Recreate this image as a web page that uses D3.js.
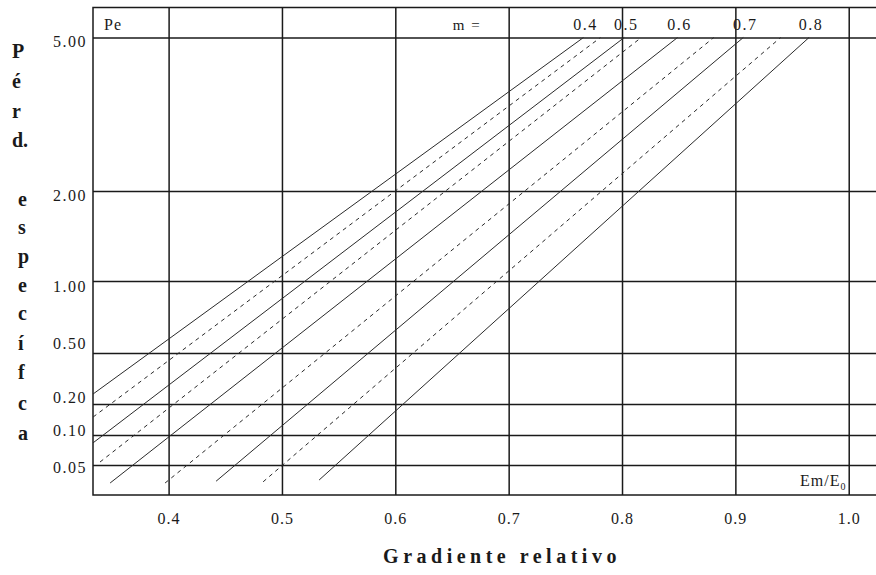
<!DOCTYPE html>
<html>
<head>
<meta charset="utf-8">
<script src="https://cdn.jsdelivr.net/npm/d3@7"></script>
<style>
    body { margin: 0; background: #fff; }
    svg text { font-family: "Liberation Serif", "Times New Roman", serif; fill: #1a1a1a; }
</style>
</head>
<body>
<svg id="chart" width="876" height="575"></svg>
<script>
// nomogram values
const mValues   = [0.4, 0.45, 0.5, 0.55, 0.6, 0.65, 0.7, 0.75, 0.8];
const startGrad = [0.3334, 0.3334, 0.3334, 0.3395, 0.3484, 0.3969, 0.4419, 0.4834, 0.5328];
const startPe   = [0.259, 0.158, 0.087, 0.055, 0.020, 0.020, 0.023, 0.022, 0.025];
const endGrad   = [0.766, 0.781, 0.802, 0.817, 0.849, 0.881, 0.907, 0.940, 0.965];
const endPe     = [5, 5, 5, 5, 5, 5, 5, 5, 5];

const xTicks = [0.4, 0.5, 0.6, 0.7, 0.8, 0.9, 1.0];
const yTicks = [0.05, 0.1, 0.2, 0.5, 1, 2, 5];
const yTickLabels = ["0.05", "0.10", "0.20", "0.50", "1.00", "2.00", "5.00"];
const yTitleParts = [["P", "é", "r", "d."], ["e", "s", "p", "e", "c", "í", "f", "c", "a"]];

const plot = {left: 93, right: 882, top: 7.5, bottom: 495};

const svg = d3.select('#chart');

const x = d3.scaleLinear()
    .domain([0.3333, 1.0276])
    .range([plot.left, 880]);

// the paper's Pe scale is not a clean log scale, so it is piecewise linear
const y = d3.scaleLinear()
    .domain([0, 0.05, 0.1, 0.2, 0.5, 1, 2, 5])
    .range([plot.bottom, 465, 435, 404, 353, 281, 191, 37.5]);

// nudges for the y labels, which sit a little off their grid lines
const yLabelShift = [2, -5, -7, -10, 5, 4, 4];

// x grid + labels
const xAxis = svg.append('g')
    .attr('transform', 'translate(0,' + plot.bottom + ')')
    .call(d3.axisBottom(x)
        .tickValues(xTicks)
        .tickFormat(d3.format('.1f'))
        .tickSize(-(plot.bottom - plot.top))
        .tickPadding(18));
xAxis.select('.domain').remove();
xAxis.selectAll('line').attr('stroke', '#1a1a1a').attr('stroke-width', 1.5);
xAxis.selectAll('text')
    .style('font-size', '16px')
    .style('letter-spacing', '1px')
    .attr('fill', '#1a1a1a');

// y grid + labels
const yAxis = svg.append('g')
    .attr('transform', 'translate(' + plot.left + ',0)')
    .call(d3.axisLeft(y)
        .tickValues(yTicks)
        .tickFormat((d, i) => yTickLabels[i])
        .tickSize(-(plot.right - plot.left))
        .tickPadding(6));
yAxis.select('.domain').remove();
yAxis.selectAll('line').attr('stroke', '#1a1a1a').attr('stroke-width', 1.5);
yAxis.selectAll('text')
    .style('font-size', '16px')
    .style('letter-spacing', '1.5px')
    .attr('fill', '#1a1a1a')
    .attr('transform', (d, i) => 'translate(0,' + yLabelShift[i] + ')');

// frame
svg.append('rect')
    .attr('x', plot.left)
    .attr('y', plot.top)
    .attr('width', plot.right - plot.left)
    .attr('height', plot.bottom - plot.top)
    .attr('fill', 'none')
    .attr('stroke', '#1a1a1a')
    .attr('stroke-width', 1.5);

// m curves
const series = mValues.map((m, i) => ({
    m: m,
    dashed: i % 2 === 1,
    points: [[startGrad[i], startPe[i]], [endGrad[i], endPe[i]]]
}));

const line = d3.line()
    .x(d => x(d[0]))
    .y(d => y(d[1]));

svg.append('g')
    .selectAll('path')
    .data(series).enter()
    .append('path')
    .attr('d', d => line(d.points))
    .attr('fill', 'none')
    .attr('stroke', '#2a2a2a')
    .attr('stroke-width', 1)
    .attr('stroke-dasharray', d => d.dashed ? '4,4' : null);

// header strip
svg.append('text')
    .attr('x', 104).attr('y', 30)
    .style('font-size', '16px')
    .style('letter-spacing', '1px')
    .text('Pe');

svg.append('text')
    .attr('x', 467).attr('y', 30)
    .attr('text-anchor', 'middle')
    .style('font-size', '15px')
    .style('letter-spacing', '1.5px')
    .text('m =');

svg.append('g')
    .selectAll('text')
    .data(series.filter(d => !d.dashed)).enter()
    .append('text')
    .attr('x', d => x(d.points[1][0]) + 2)
    .attr('y', 30)
    .attr('text-anchor', 'middle')
    .style('font-size', '16px')
    .style('letter-spacing', '1.5px')
    .text(d => d.m.toFixed(1));

// Em/E0 inside the plot
const em = svg.append('text')
    .attr('x', 800).attr('y', 486)
    .style('font-size', '16px')
    .style('letter-spacing', '1px');
em.append('tspan').text('Em/E');
em.append('tspan').attr('dy', 4).style('font-size', '10px').text('0');

// x title
svg.append('text')
    .attr('x', 502).attr('y', 563)
    .attr('text-anchor', 'middle')
    .style('font-size', '20px')
    .style('font-weight', 'bold')
    .style('letter-spacing', '4.5px')
    .text('Gradiente relativo');

// y title, stacked letters
const firstRows = [52, 82, 112, 141];
const secondRows = [200, 228, 257, 286, 314, 344, 373, 404, 434];
[firstRows, secondRows].forEach((rows, k) => {
    svg.append('g')
        .selectAll('text')
        .data(yTitleParts[k]).enter()
        .append('text')
        .attr('x', k === 0 ? 12 : 18)
        .attr('y', (d, i) => rows[i] + 6)
        .style('font-size', '20px')
        .style('font-weight', 'bold')
        .text(d => d);
});
</script>
</body>
</html>
